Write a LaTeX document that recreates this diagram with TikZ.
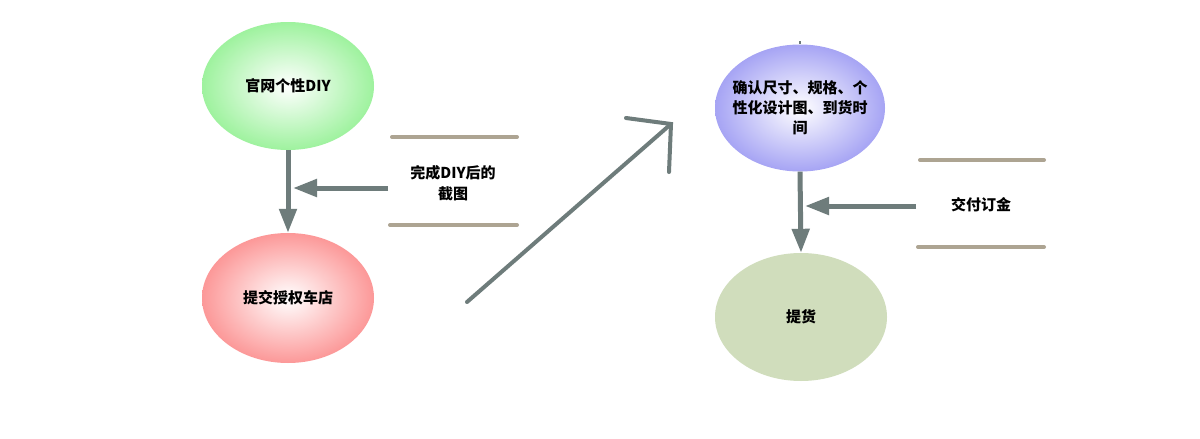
\documentclass[tikz,border=0pt]{standalone}
\usepackage{fontspec}
\setmainfont{Noto Sans CJK SC}
\usetikzlibrary{arrows.meta,shapes.geometric}
\definecolor{arrowgray}{RGB}{110,124,123}
\definecolor{barbeige}{RGB}{173,164,146}
\definecolor{egreen}{RGB}{158,242,158}
\definecolor{epink}{RGB}{252,152,152}
\definecolor{eblue}{RGB}{166,164,244}
\definecolor{eolive}{RGB}{208,221,188}
\tikzset{
  bubble/.style={ellipse, minimum width=172pt, minimum height=128pt, inner sep=-40pt, align=center, font=\bfseries\fontsize{15}{20}\selectfont},
  flow/.style={draw=arrowgray, line width=5pt, -{Triangle[length=24pt,width=17pt]}},
  bar/.style={draw=barbeige, line width=4pt, line cap=round},
  note/.style={align=center, font=\bfseries\fontsize{15}{21}\selectfont},
  bigarrow/.style={draw=arrowgray, line width=4pt, line cap=round}
}
\begin{document}
\begin{tikzpicture}[x=1pt,y=-1pt]
\useasboundingbox[fill=white] (0,0) rectangle (1200,439);
% left column
\node[bubble, inner color=white, outer color=egreen] (a) at (288,86) {官网个性DIY};
\node[bubble, minimum height=130pt, inner color=white, outer color=epink] (b) at (288,298) {提交授权车店};
\draw[flow] (a.south) -- (b.north);
\node[note] (n1) at (453,183) {完成DIY后的\\截图};
\coordinate (n1from) at (388,188);
\coordinate (n1to) at (293,188);
\draw[flow] (n1from) -- (n1to);
\coordinate (t1l) at (392,137); \coordinate (t1r) at (517,137);
\coordinate (b1l) at (390,225); \coordinate (b1r) at (517,225);
\draw[bar] (t1l) -- (t1r);
\draw[bar] (b1l) -- (b1r);
% diagonal arrow
\coordinate (ds) at (467,302);
\coordinate (dt) at (671,124);
\coordinate (dp1) at (626,118);
\coordinate (dp2) at (669,172);
\draw[bigarrow] (ds) -- (dt);
\draw[bigarrow] (dp1) -- (dt) -- (dp2);
% right column
\node[bubble, minimum width=170pt, minimum height=127pt, inner color=white, outer color=eblue] (c) at (800,108) {确认尺寸、规格、个\\性化设计图、到货时\\间};
\node[bubble, fill=eolive] (d) at (801,317) {提货};
\draw[flow] (c.south) -- (d.north);
\coordinate (ctop1) at (800,41);
\draw[draw=arrowgray, line width=1.5pt] (ctop1) -- (c.north);
\node[note] (n2) at (981,205) {交付订金};
\coordinate (n2from) at (916,206);
\coordinate (n2to) at (805,206);
\draw[flow] (n2from) -- (n2to);
\coordinate (t2l) at (920,160); \coordinate (t2r) at (1044,160);
\coordinate (b2l) at (918,247); \coordinate (b2r) at (1044,247);
\draw[bar] (t2l) -- (t2r);
\draw[bar] (b2l) -- (b2r);
\end{tikzpicture}
\end{document}
